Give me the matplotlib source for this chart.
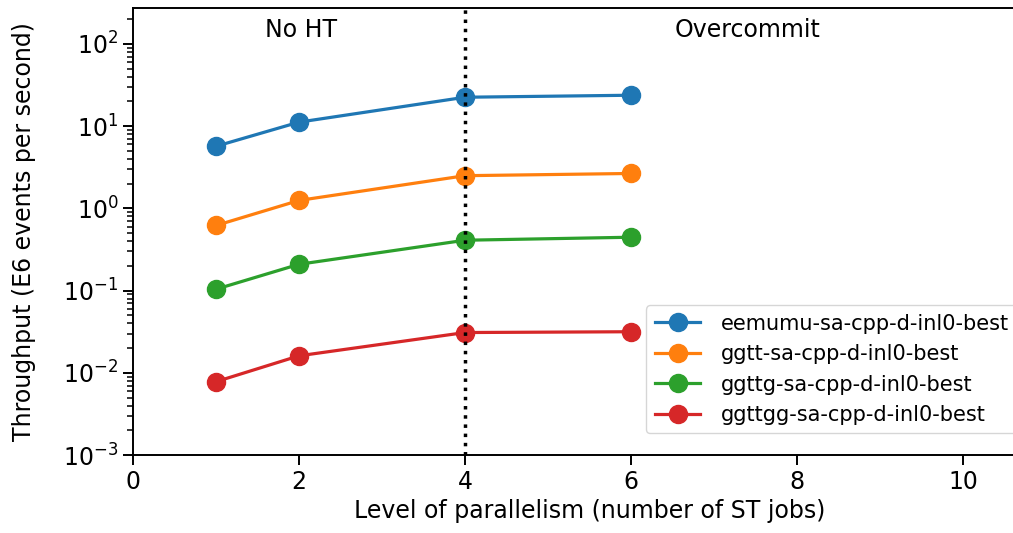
import matplotlib
matplotlib.use("Agg")
import matplotlib.pyplot as plt

x_jobs = [1, 2, 4, 6]
series_names = ["eemumu-sa-cpp-d-inl0-best", "ggtt-sa-cpp-d-inl0-best",
                "ggttg-sa-cpp-d-inl0-best", "ggttgg-sa-cpp-d-inl0-best"]
eemumu = [5.7, 11.2, 22.5, 23.8]
ggtt = [0.62, 1.25, 2.5, 2.66]
ggttg = [0.104, 0.209, 0.41, 0.446]
ggttgg = [0.0078, 0.0161, 0.0309, 0.0316]
series_values = [eemumu, ggtt, ggttg, ggttgg]
colors = ["#1f77b4", "#ff7f0e", "#2ca02c", "#d62728"]

fig = plt.figure(figsize=(10.13, 5.33), dpi=100)
ax = fig.add_axes([0.1313, 0.1463, 0.9013, 0.8387])
for name, vals, c in zip(series_names, series_values, colors):
    ax.plot(x_jobs, vals, marker="o", color=c, label=name, lw=2.3, ms=13)
ax.axvline(4, color="black", ls=":", lw=2.5)
ax.set_yscale("log")
ax.set_xlim(0, 11)
ax.set_ylim(1e-3, 2.74e2)
ax.set_xticks([0, 2, 4, 6, 8, 10])
ax.tick_params(labelsize=17, width=1.4, length=7)
ax.tick_params(which="minor", width=1.1, length=4)
for s in ax.spines.values():
    s.set_linewidth(1.4)
ax.text(2.03, 150, "No HT", ha="center", va="center", fontsize=17)
ax.text(7.4, 150, "Overcommit", ha="center", va="center", fontsize=17)
ax.set_xlabel("Level of parallelism (number of ST jobs)", fontsize=17)
ax.set_ylabel("Throughput (E6 events per second)", fontsize=17)
ax.yaxis.set_label_coords(-0.106, 0.5)
fig.legend(loc="lower left", bbox_to_anchor=(0.638, 0.187), fontsize=15,
           markerscale=1.0, handlelength=2.2, handletextpad=1.0,
           borderaxespad=0.0)
fig.savefig("out.png", dpi=100)
